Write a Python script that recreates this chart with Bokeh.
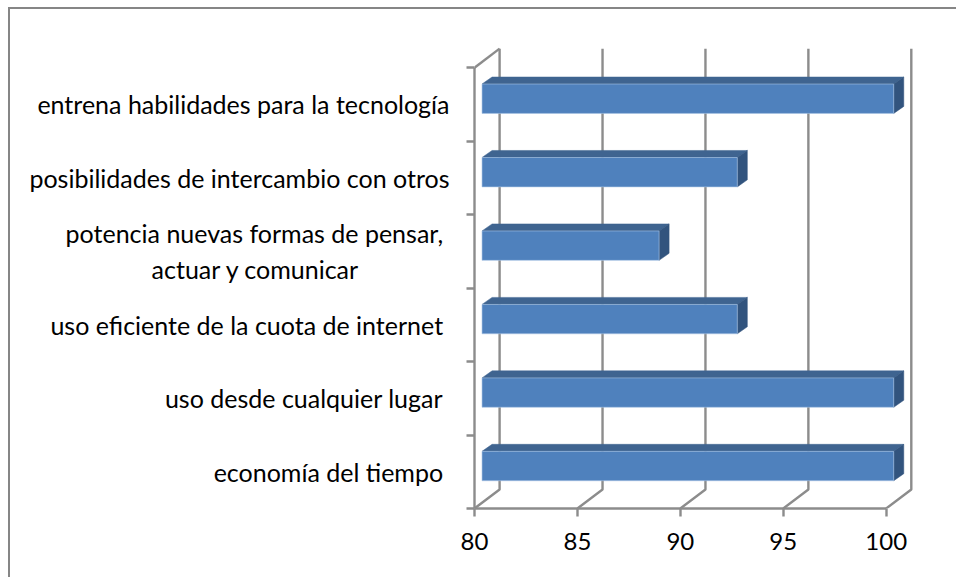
from bokeh.plotting import figure
from bokeh.models import FixedTicker, LinearAxis, Range1d
from bokeh.embed import file_html
from bokeh.resources import INLINE

# data (top-level, bottom to top)
categories = ["economía del tiempo ", "uso desde cualquier lugar ", "uso eficiente de la cuota de internet ",
              "potencia nuevas formas de pensar, \nactuar y comunicar" + " " * 14,
              "posibilidades de intercambio con otros",
              "entrena habilidades para la tecnología"]
values = [100, 100, 92.4, 88.6, 92.4, 100]
x_ticks = [80, 85, 90, 95, 100]
base = 80

W, H = 946, 568             # canvas size
FL, FB = 464, 71            # frame left / bottom margins
PX = 20.5                   # px per x-unit
PY = 73.17                  # px per category
DX, DY = 25 / PX, 19 / PY   # depth of the wall
FX, FY = 7.5 / PX, 5.7 / PY # front of bars inside the depth
BDX, BDY = 10 / PX, 7 / PY  # bar depth
BH = 0.40
GRID = "#8c8c8c"
FONT = "Lato"

p = figure(width=W, height=H, output_backend="svg", toolbar_location=None,
           min_border_left=FL, min_border_bottom=FB, min_border_top=0, min_border_right=0,
           x_range=Range1d(base, base + (W - FL) / PX),
           y_range=Range1d(0, (H - FB) / PY), x_axis_type=None, y_axis_type=None,
           outline_line_color=None, background_fill_color="white",
           margin=(7, 0, 0, 8),
           styles={"border-top": "2px solid #868686", "border-left": "2px solid #868686",
                   "box-sizing": "content-box"})
p.grid.visible = False

# walls
xs, ys = [], []
for t in x_ticks:
    xs.append([t, t + DX, t + DX]); ys.append([0, DY, len(categories) + DY])
xs.append([base, base + DX]); ys.append([len(categories), len(categories) + DY])
p.multi_line(xs, ys, line_color=GRID, line_width=2.4)

# bars
fx, fy, tx, ty, sx, sy = [], [], [], [], [], []
for i, v in enumerate(values):
    l, r = base + FX, v + FX
    b, t = i + 0.5 - BH / 2 + FY, i + 0.5 + BH / 2 + FY
    fx.append([l, r, r, l]); fy.append([b, b, t, t])
    tx.append([l, r, r + BDX, l + BDX]); ty.append([t, t, t + BDY, t + BDY])
    sx.append([r, r + BDX, r + BDX, r]); sy.append([b, b + BDY, t + BDY, t])
p.patches(tx, ty, fill_color="#3f6490", line_color="#3f6490", line_width=0.5)
p.patches(sx, sy, fill_color="#32547e", line_color="#32547e", line_width=0.5)
p.patches(fx, fy, fill_color="#4f81bd", line_color="#a9c4e4", line_width=0.6)

# axes
xa = LinearAxis(ticker=FixedTicker(ticks=x_ticks), bounds=(80, 100))
xa.axis_line_color = GRID; xa.axis_line_width = 2.4
xa.major_tick_line_color = GRID; xa.major_tick_line_width = 2.4
xa.major_tick_out = 8; xa.major_tick_in = 0
xa.minor_tick_line_color = None
xa.major_label_text_font = FONT; xa.major_label_text_font_size = "24px"
xa.major_label_text_color = "black"; xa.major_label_standoff = 16
p.add_layout(xa, "below")

ya = LinearAxis(ticker=FixedTicker(ticks=[i + 0.5 for i in range(len(categories))],
                                   minor_ticks=list(range(len(categories) + 1))),
                bounds=(0, len(categories)),
                major_label_overrides={i + 0.5: c for i, c in enumerate(categories)})
ya.axis_line_color = GRID; ya.axis_line_width = 2.4
ya.major_tick_line_color = None
ya.major_tick_in = 0; ya.major_tick_out = 0
ya.minor_tick_line_color = GRID; ya.minor_tick_line_width = 2.4
ya.minor_tick_out = 8; ya.minor_tick_in = 0
ya.major_label_text_font = FONT; ya.major_label_text_font_size = "25px"
ya.major_label_text_color = "black"; ya.major_label_standoff = 17
p.add_layout(ya, "left")

open("out.html", "w").write(file_html(p, INLINE))
